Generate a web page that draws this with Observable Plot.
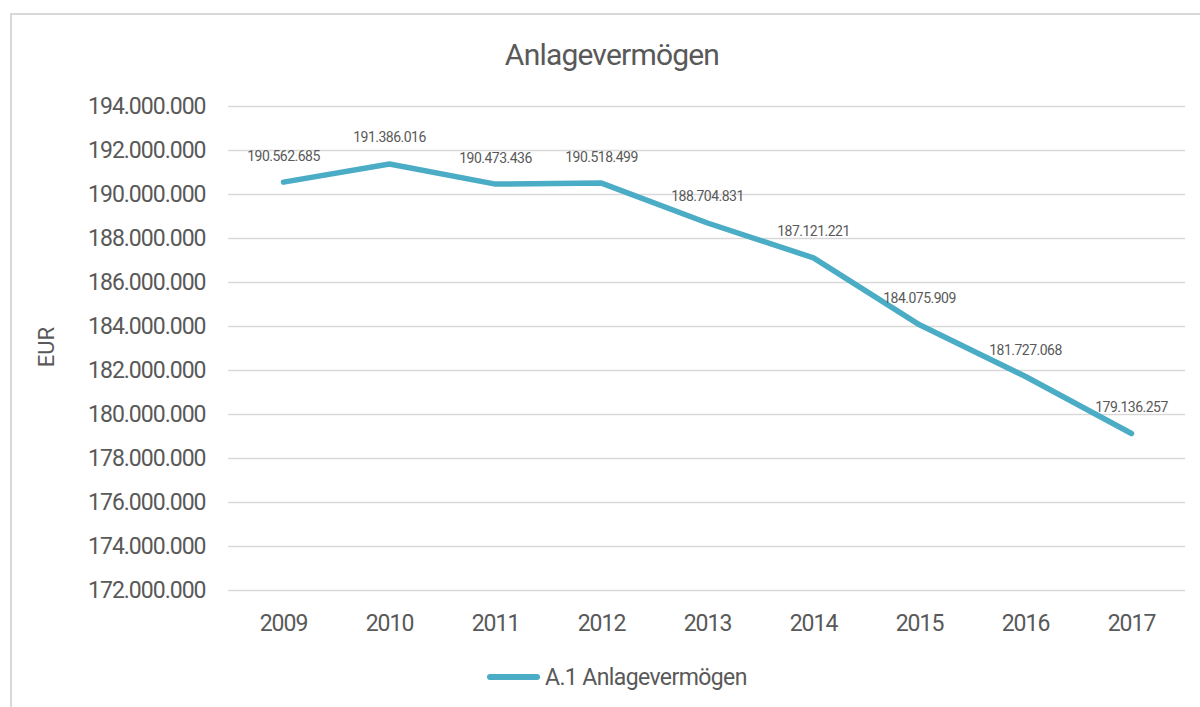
<!DOCTYPE html>
<html><head><meta charset="utf-8">
<script src="https://cdn.jsdelivr.net/npm/d3@7"></script>
<script src="https://cdn.jsdelivr.net/npm/@observablehq/plot@0.6"></script>
<style>
body{margin:0;background:#fff;width:1200px;height:707px;overflow:hidden;position:relative;font-family:Roboto,'Liberation Sans',sans-serif;color:#595959}
#frame{position:absolute;left:10px;top:13px;width:1300px;height:800px;border-left:2px solid #d9d9d9;border-top:2px solid #d9d9d9;box-sizing:border-box}
#title{position:absolute;top:36px;left:0;width:1224px;text-align:center;font-size:30px;line-height:38px;letter-spacing:-0.8px}
#chart{position:absolute;top:90px;left:0}
#ylabel{position:absolute;left:47px;top:347px;transform:translate(-50%,-50%) rotate(-90deg);font-size:22px;line-height:26px;white-space:nowrap}
#legend{position:absolute;left:487px;top:662px;height:30px;display:flex;align-items:center;font-size:23px;letter-spacing:-0.6px;white-space:nowrap}
#legend .sw{display:inline-block;width:53px;height:5.5px;border-radius:3px;background:#4BACC6;margin-right:5px}
#chart svg text{letter-spacing:-1px}
#chart svg g.labels text{letter-spacing:-0.5px}
</style></head>
<body>
<div id="frame"></div>
<div id="title">Anlagevermögen</div>
<div id="ylabel">EUR</div>
<div id="chart"></div>
<div id="legend"><span class="sw"></span><span>A.1 Anlagevermögen</span></div>
<script>
const years = ["2009","2010","2011","2012","2013","2014","2015","2016","2017"];
const values = [190562685, 191386016, 190473436, 190518499, 188704831, 187121221, 184075909, 181727068, 179136257];
const yTicks = [172000000,174000000,176000000,178000000,180000000,182000000,184000000,186000000,188000000,190000000,192000000,194000000];
const seriesName = "A.1 Anlagevermögen";

const data = years.map((y,i)=>({year:y, value:values[i]}));
const fmt = d3.formatLocale({decimal:",",thousands:".",grouping:[3],currency:["","€"]}).format(",d");
const FONT = "Roboto,'Liberation Sans',sans-serif";

const chart = Plot.plot({
  width:1200, height:560, marginLeft:228, marginRight:15, marginTop:16, marginBottom:60,
  style:{fontFamily:FONT, color:"#595959", background:"transparent", overflow:"visible"},
  x:{type:"point", domain:years, padding:0.5},
  y:{domain:[172000000,194000000]},
  marks:[
    Plot.gridY(yTicks,{stroke:"#d9d9d9", strokeOpacity:1, strokeWidth:1.5}),
    Plot.axisY(yTicks,{tickSize:0,tickPadding:23,tickFormat:fmt,fontSize:23,label:null}),
    Plot.axisX({tickSize:0,tickPadding:24,fontSize:23,label:null}),
    Plot.line(data,{x:"year",y:"value",stroke:"#4BACC6",strokeWidth:5.5,strokeLinecap:"round",strokeLinejoin:"round"}),
    Plot.text(data,{x:"year",y:"value",text:d=>fmt(d.value),dy:-26,fontSize:14,fill:"#595959",className:"labels"})
  ]
});
chart.querySelectorAll("g").forEach(g=>{ if (g.getAttribute("font-size")==="14") g.classList.add("labels"); });
document.getElementById("chart").appendChild(chart);
</script>
</body></html>
